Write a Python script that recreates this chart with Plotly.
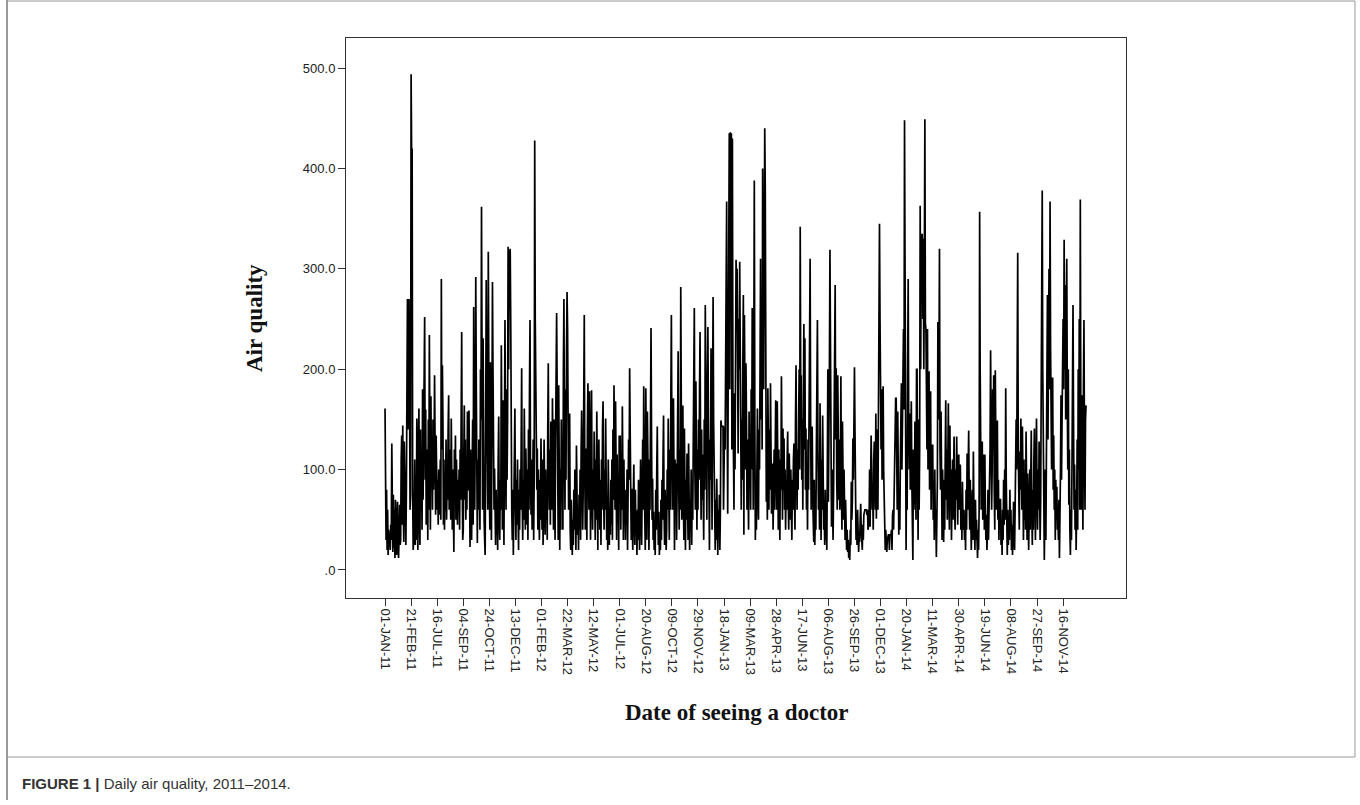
import plotly.graph_objects as go

# Daily air quality index, observation order (days with data only)
aqi = [
 161, 40, 30, 80, 20, 60, 15, 40, 25, 35,
 20, 45, 30, 126, 40, 18, 75, 22, 60, 12,
 70, 25, 15, 50, 68, 20, 12, 35, 65, 25,
 30, 110, 134, 45, 144, 60, 28, 128, 90, 35,
 25, 80, 190, 270, 140, 200, 270, 190, 60, 75,
 494, 415, 420, 75, 20, 30, 60, 110, 25, 95,
 30, 151, 80, 20, 120, 161, 50, 25, 140, 60,
 100, 40, 180, 70, 130, 200, 252, 90, 160, 45,
 55, 120, 30, 150, 60, 234, 110, 40, 173, 90,
 120, 60, 150, 80, 110, 194, 100, 55, 134, 70,
 60, 90, 45, 100, 55, 80, 110, 50, 290, 120,
 204, 150, 45, 110, 40, 90, 60, 130, 50, 85,
 70, 140, 174, 60, 120, 80, 50, 151, 90, 40,
 100, 60, 18, 120, 70, 134, 50, 110, 80, 45,
 90, 60, 100, 40, 120, 70, 150, 237, 90, 30,
 40, 110, 164, 70, 130, 50, 100, 60, 158, 80,
 80, 159, 40, 23, 120, 60, 30, 90, 150, 45,
 262, 100, 60, 140, 292, 180, 70, 27, 110, 60,
 130, 80, 40, 200, 150, 362, 120, 60, 231, 90,
 50, 30, 15, 140, 289, 180, 100, 60, 317, 130,
 80, 40, 207, 120, 30, 150, 287, 200, 138, 60,
 101, 40, 25, 80, 35, 60, 20, 110, 153, 50,
 30, 90, 60, 224, 110, 40, 169, 80, 25, 130,
 249, 120, 60, 180, 90, 150, 322, 200, 319, 260,
 320, 250, 100, 60, 30, 80, 15, 60, 110, 161,
 70, 30, 90, 45, 110, 60, 20, 80, 40, 100,
 60, 120, 201, 70, 30, 90, 50, 161, 110, 40,
 121, 80, 45, 100, 30, 140, 60, 180, 249, 90,
 55, 110, 40, 70, 130, 30, 90, 428, 250, 203,
 160, 80, 121, 40, 100, 60, 30, 90, 50, 131,
 70, 40, 110, 25, 60, 130, 80, 35, 100, 50,
 80, 30, 140, 206, 100, 60, 120, 45, 148, 90,
 60, 171, 110, 40, 150, 80, 30, 130, 200, 256,
 183, 90, 30, 184, 60, 20, 100, 40, 150, 70,
 120, 40, 200, 270, 130, 60, 180, 90, 220, 277,
 240, 150, 60, 100, 156, 40, 20, 70, 30, 15,
 50, 25, 80, 40, 100, 60, 20, 124, 70, 35,
 60, 20, 75, 40, 100, 30, 120, 159, 90, 40,
 80, 150, 254, 100, 40, 121, 60, 30, 140, 186,
 100, 60, 178, 90, 30, 120, 179, 70, 40, 100,
 60, 138, 90, 30, 110, 50, 158, 80, 20, 100,
 130, 70, 40, 90, 25, 110, 60, 140, 168, 80,
 40, 100, 60, 151, 90, 30, 70, 20, 110, 50,
 25, 60, 35, 90, 45, 110, 30, 140, 70, 184,
 100, 60, 168, 90, 30, 115, 50, 80, 20, 134,
 90, 134, 40, 100, 60, 163, 80, 30, 110, 50,
 65, 30, 80, 45, 100, 20, 60, 130, 90, 201,
 140, 60, 30, 81, 40, 20, 70, 105, 50, 25,
 80, 40, 58, 15, 60, 30, 90, 45, 20, 70,
 110, 50, 25, 80, 130, 60, 183, 90, 40, 20,
 181, 60, 30, 158, 90, 40, 20, 110, 60, 150,
 241, 130, 50, 91, 30, 58, 20, 45, 15, 80,
 40, 100, 143, 60, 25, 58, 15, 35, 20, 70,
 30, 90, 50, 110, 154, 60, 25, 80, 61, 20,
 40, 100, 60, 151, 80, 30, 120, 60, 170, 254,
 130, 60, 90, 171, 40, 20, 110, 70, 106, 30,
 80, 140, 218, 90, 40, 120, 60, 282, 150, 50,
 100, 164, 70, 30, 141, 60, 20, 90, 50, 116,
 60, 30, 126, 80, 20, 70, 40, 100, 25, 90,
 50, 130, 200, 261, 100, 60, 188, 80, 40, 120,
 60, 150, 90, 180, 237, 120, 50, 140, 70, 115,
 60, 30, 150, 80, 264, 200, 100, 50, 180, 242,
 150, 60, 20, 130, 90, 221, 140, 40, 180, 272,
 150, 101, 40, 20, 70, 30, 91, 45, 15, 60,
 35, 75, 20, 60, 149, 143, 143, 143, 143, 60,
 143, 143, 120, 230, 300, 367, 150, 56, 200, 300,
 435, 180, 436, 300, 435, 120, 430, 176, 90, 60,
 176, 100, 200, 309, 290, 300, 160, 116, 250, 200,
 307, 180, 110, 60, 150, 90, 200, 274, 35, 254,
 180, 100, 206, 150, 60, 130, 80, 40, 158, 90,
 120, 60, 180, 100, 261, 140, 60, 200, 388, 150,
 30, 75, 40, 120, 161, 80, 50, 140, 100, 200,
 310, 150, 250, 120, 400, 300, 180, 350, 440, 380,
 200, 68, 120, 50, 181, 100, 60, 140, 80, 186,
 100, 56, 80, 106, 40, 70, 120, 60, 130, 169,
 100, 60, 168, 90, 40, 120, 70, 30, 110, 80,
 193, 100, 50, 141, 80, 131, 60, 100, 40, 90,
 60, 110, 138, 70, 40, 116, 80, 50, 100, 60,
 30, 90, 60, 110, 126, 70, 40, 150, 204, 100,
 60, 120, 80, 150, 200, 100, 342, 180, 194, 90,
 150, 60, 200, 245, 120, 231, 80, 141, 60, 100,
 40, 130, 80, 180, 230, 310, 150, 60, 100, 143,
 70, 40, 28, 90, 25, 60, 40, 120, 200, 249,
 120, 60, 100, 40, 166, 80, 30, 110, 60, 154,
 90, 40, 60, 25, 80, 30, 55, 20, 100, 200,
 68, 120, 200, 319, 150, 60, 43, 100, 50, 30,
 80, 150, 220, 284, 130, 201, 90, 60, 194, 120,
 70, 130, 60, 100, 193, 80, 40, 148, 90, 50,
 100, 58, 30, 70, 48, 20, 40, 18, 30, 12,
 20, 10, 40, 25, 88, 50, 70, 131, 90, 150,
 202, 140, 68, 30, 45, 25, 60, 30, 18, 35,
 28, 50, 66, 40, 30, 20, 45, 30, 55, 60,
 60, 60, 60, 60, 55, 60, 40, 45, 43, 100,
 43, 90, 134, 100, 60, 80, 40, 110, 128, 90,
 60, 156, 51, 100, 140, 60, 158, 200, 345, 250,
 206, 120, 180, 90, 160, 183, 100, 60, 30, 20,
 40, 25, 18, 30, 35, 35, 35, 20, 35, 35,
 35, 40, 20, 55, 60, 40, 78, 100, 120, 171,
 171, 90, 60, 158, 100, 35, 70, 40, 110, 160,
 186, 100, 140, 200, 240, 160, 448, 300, 120, 20,
 126, 60, 200, 290, 150, 100, 156, 80, 130, 168,
 90, 40, 10, 120, 60, 80, 148, 100, 50, 200,
 200, 100, 30, 150, 60, 120, 363, 200, 335, 300,
 335, 250, 330, 200, 300, 449, 246, 240, 180, 120,
 240, 100, 150, 198, 80, 120, 178, 60, 125, 90,
 125, 50, 80, 30, 100, 45, 60, 13, 40, 90,
 247, 150, 200, 320, 120, 80, 158, 60, 30, 100,
 60, 28, 90, 40, 110, 169, 70, 120, 50, 100,
 166, 80, 40, 144, 60, 100, 30, 70, 110, 50,
 80, 133, 60, 40, 100, 70, 133, 90, 45, 110,
 115, 60, 80, 105, 40, 70, 30, 88, 50, 40,
 60, 30, 55, 20, 80, 40, 116, 60, 100, 139,
 70, 40, 90, 60, 20, 50, 80, 30, 118, 60,
 40, 20, 70, 30, 50, 25, 12, 40, 20, 60,
 357, 200, 139, 60, 100, 128, 50, 80, 115, 40,
 115, 60, 30, 55, 20, 40, 80, 30, 60, 98,
 120, 219, 150, 60, 100, 180, 120, 194, 80, 40,
 199, 110, 60, 140, 149, 50, 90, 30, 71, 40,
 71, 25, 50, 15, 60, 30, 90, 45, 100, 50,
 181, 90, 40, 15, 60, 25, 50, 30, 80, 40,
 60, 20, 45, 15, 30, 68, 40, 20, 60, 90,
 150, 100, 200, 316, 120, 60, 40, 118, 80, 151,
 100, 60, 143, 80, 30, 110, 50, 90, 40, 138,
 70, 30, 96, 50, 20, 60, 100, 40, 90, 139,
 60, 25, 80, 40, 110, 141, 70, 30, 100, 151,
 80, 40, 100, 60, 128, 90, 30, 70, 150, 200,
 378, 200, 80, 40, 10, 60, 100, 30, 150, 200,
 274, 130, 250, 300, 180, 367, 220, 140, 100, 191,
 191, 80, 134, 60, 100, 30, 90, 50, 83, 40,
 60, 30, 70, 12, 40, 100, 174, 90, 150, 200,
 250, 180, 329, 200, 284, 150, 300, 310, 180, 100,
 200, 65, 120, 40, 15, 60, 30, 100, 180, 264,
 150, 60, 105, 40, 80, 20, 60, 130, 40, 200,
 100, 250, 60, 369, 150, 60, 174, 100, 40, 180,
 249, 120, 60, 150, 164,
]
obs_index = list(range(len(aqi)))

x_tick_pos = list(range(0, 1301, 50))
x_tick_labels = [
 "01-JAN-11", "21-FEB-11", "16-JUL-11", "04-SEP-11", "24-OCT-11", "13-DEC-11",
 "01-FEB-12", "22-MAR-12", "12-MAY-12", "01-JUL-12", "20-AUG-12", "09-OCT-12",
 "29-NOV-12", "18-JAN-13", "09-MAR-13", "28-APR-13", "17-JUN-13", "06-AUG-13",
 "26-SEP-13", "01-DEC-13", "20-JAN-14", "11-MAR-14", "30-APR-14", "19-JUN-14",
 "08-AUG-14", "27-SEP-14", "16-NOV-14",
]
y_tick_pos = [0, 100, 200, 300, 400, 500]
y_tick_labels = [".0", "100.0", "200.0", "300.0", "400.0", "500.0"]

W, H = 1360, 805
L, R, T, B = 346, 1126, 38, 598

fig = go.Figure()
fig.add_trace(go.Scatter(
    x=obs_index, y=aqi, mode="lines",
    line=dict(color="#000000", width=1.7),
    hoverinfo="x+y", showlegend=False,
))

axis_common = dict(
    showgrid=False, zeroline=False, showline=True, linecolor="#333333",
    linewidth=1, mirror=True, ticks="outside", ticklen=7, tickwidth=1,
    tickcolor="#333333",
    tickfont=dict(family="Liberation Sans, Arial, sans-serif", size=13, color="#222222"),
)

fig.update_layout(
    width=W, height=H,
    margin=dict(l=L, r=W - R, t=T, b=H - B, pad=0),
    paper_bgcolor="white", plot_bgcolor="white",
    xaxis=dict(range=[-74.8, 1420.6], tickmode="array", tickvals=x_tick_pos,
               ticktext=x_tick_labels, tickangle=90, **axis_common),
    yaxis=dict(range=[-27.9, 530], tickmode="array", tickvals=y_tick_pos,
               ticktext=y_tick_labels, **axis_common),
    annotations=[
        dict(text="<b>Air quality</b>", xref="paper", yref="paper",
             x=(254 - L) / (R - L), y=(B - 318) / (B - T), textangle=-90,
             showarrow=False, xanchor="center", yanchor="middle",
             font=dict(family="Liberation Serif, Times New Roman, serif", size=23, color="#111111")),
        dict(text="<b>Date of seeing a doctor</b>", xref="paper", yref="paper",
             x=(737 - L) / (R - L), y=(B - 712) / (B - T),
             showarrow=False, xanchor="center", yanchor="middle",
             font=dict(family="Liberation Serif, Times New Roman, serif", size=23, color="#111111")),
        dict(text="<b>FIGURE 1 |</b> Daily air quality, 2011–2014.", xref="paper", yref="paper",
             x=(20 - L) / (R - L), y=(B - 783) / (B - T),
             showarrow=False, xanchor="left", yanchor="middle",
             font=dict(family="Liberation Sans, Arial, sans-serif", size=15, color="#333333")),
    ],
    shapes=[
        dict(type="line", xref="paper", yref="paper",
             x0=(7 - L) / (R - L), x1=(7 - L) / (R - L),
             y0=(B - 0) / (B - T), y1=(B - 800) / (B - T),
             line=dict(color="#999999", width=2)),
        dict(type="line", xref="paper", yref="paper",
             x0=(7 - L) / (R - L), x1=(1355 - L) / (R - L),
             y0=(B - 1) / (B - T), y1=(B - 1) / (B - T),
             line=dict(color="#999999", width=1)),
        dict(type="line", xref="paper", yref="paper",
             x0=(1355 - L) / (R - L), x1=(1355 - L) / (R - L),
             y0=(B - 1) / (B - T), y1=(B - 757) / (B - T),
             line=dict(color="#999999", width=1)),
        dict(type="line", xref="paper", yref="paper",
             x0=(7 - L) / (R - L), x1=(1355 - L) / (R - L),
             y0=(B - 757) / (B - T), y1=(B - 757) / (B - T),
             line=dict(color="#999999", width=1)),
    ],
)

fig.write_html("out.html")
